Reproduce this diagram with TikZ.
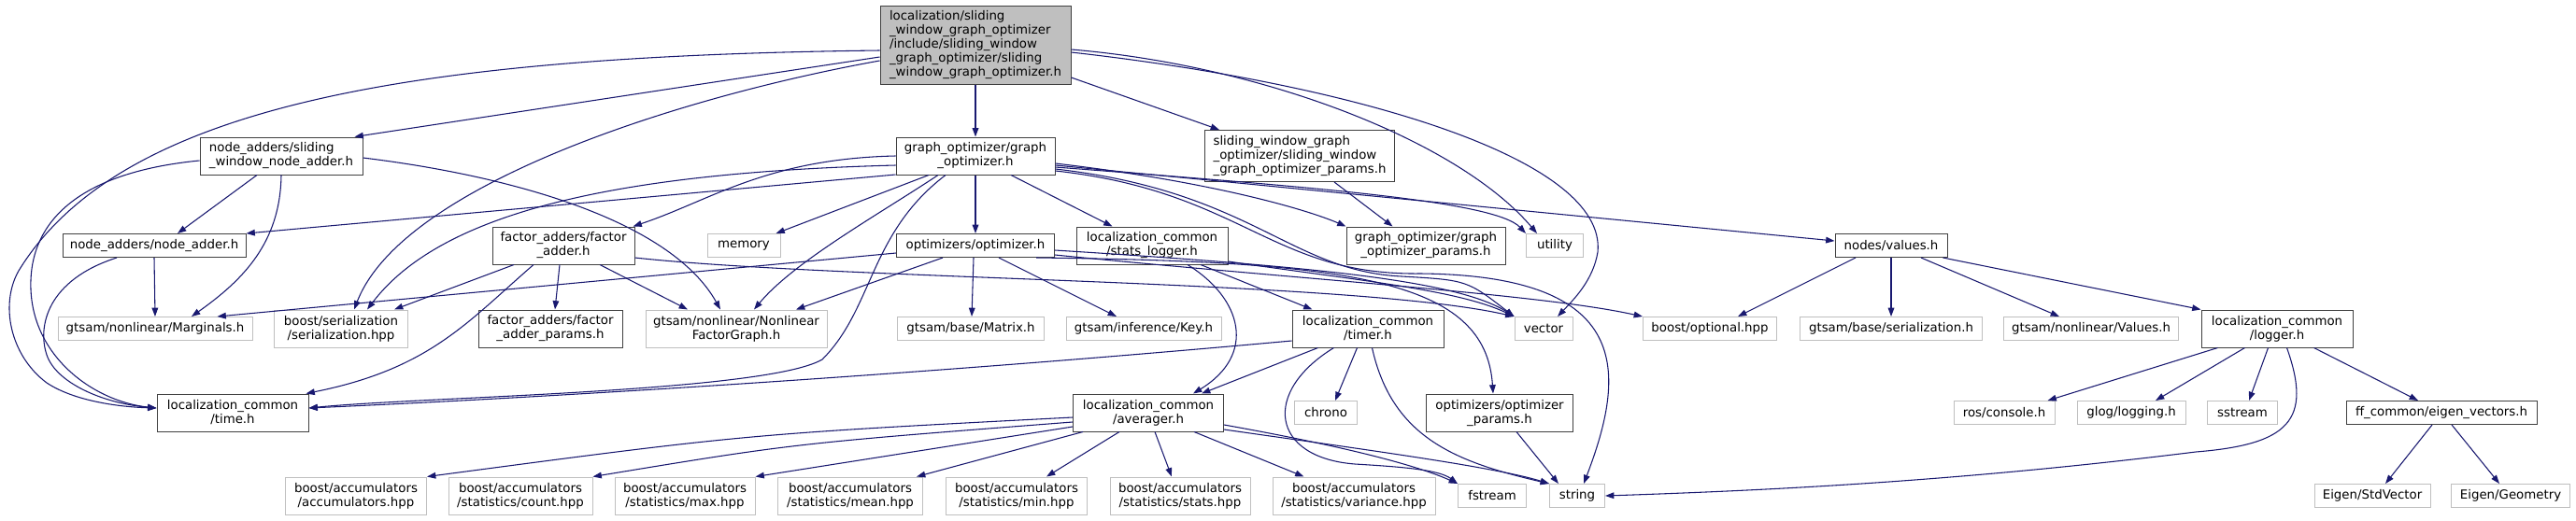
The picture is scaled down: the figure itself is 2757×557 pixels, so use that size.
\documentclass[tikz,border=0pt]{standalone}
\usepackage{fontspec}
\setmainfont{DejaVu Sans}
\usetikzlibrary{arrows.meta,calc}
\definecolor{mblue}{HTML}{191970}
\definecolor{gry}{HTML}{BFBFBF}
\definecolor{nbord}{HTML}{404040}
\tikzset{
  nbox/.style={draw=nbord, line width=0.75pt, fill=white, inner xsep=3pt, inner ysep=1pt,
    font=\fontsize{10pt}{11.25pt}\selectfont, align=center},
  xbox/.style={nbox, draw=gry},
  hone/.style={minimum height=18.75pt},
  htwo/.style={minimum height=30pt},
  edg/.style={draw=mblue, line width=0.8pt, -{Triangle[length=7pt,width=5pt]}}
}
\begin{document}
\begin{tikzpicture}[x=0.75pt,y=-0.75pt]
\useasboundingbox (0,0) rectangle (2757,557);
\fill[white] (0,0) rectangle (2757,557);

% row 0
\node[nbox, fill=gry, minimum width=204*0.75pt, minimum height=84*0.75pt, align=left] (root) at (1044,48) {localization/sliding\\\_window\_graph\_optimizer\\/include/sliding\_window\\\_graph\_optimizer/sliding\\\_window\_graph\_optimizer.h};
% row 1
\node[nbox, htwo, minimum width=174*0.75pt, align=left] (NS) at (301,167) {node\_adders/sliding\\\_window\_node\_adder.h};
\node[nbox, htwo, minimum width=170*0.75pt] (GO) at (1044,167) {graph\_optimizer/graph\\\_optimizer.h};
\node[nbox, minimum height=55*0.75pt, minimum width=203*0.75pt, align=left] (SWP) at (1391,167) {sliding\_window\_graph\\\_optimizer/sliding\_window\\\_graph\_optimizer\_params.h};
% row 2
\node[nbox, hone, minimum width=196*0.75pt] (NA) at (165,263) {node\_adders/node\_adder.h};
\node[nbox, htwo, minimum width=152*0.75pt] (FA) at (603,263) {factor\_adders/factor\\\_adder.h};
\node[xbox, hone, minimum width=78*0.75pt] (MEM) at (796,263) {memory};
\node[nbox, hone, minimum width=169*0.75pt] (OPT) at (1044,263) {optimizers/optimizer.h};
\node[nbox, htwo, minimum width=162*0.75pt] (SL) at (1233,263) {localization\_common\\/stats\_logger.h};
\node[nbox, htwo, minimum width=170*0.75pt] (GOP) at (1526,263) {graph\_optimizer/graph\\\_optimizer\_params.h};
\node[xbox, hone, minimum width=61*0.75pt] (UTIL) at (1664,263) {utility};
\node[nbox, hone, minimum width=120*0.75pt] (VAL) at (2024,263) {nodes/values.h};
% row 3
\node[xbox, hone, minimum width=208*0.75pt] (MARG) at (166,352) {gtsam/nonlinear/Marginals.h};
\node[xbox, htwo, minimum width=143*0.75pt] (SER) at (365,352) {boost/serialization\\/serialization.hpp};
\node[nbox, htwo, minimum width=154*0.75pt] (FAP) at (589,352) {factor\_adders/factor\\\_adder\_params.h};
\node[xbox, htwo, minimum width=194*0.75pt] (NLFG) at (788,352) {gtsam/nonlinear/Nonlinear\\FactorGraph.h};
\node[xbox, hone, minimum width=157*0.75pt] (MAT) at (1039,352) {gtsam/base/Matrix.h};
\node[xbox, hone, minimum width=166*0.75pt] (KEY) at (1224,352) {gtsam/inference/Key.h};
\node[nbox, htwo, minimum width=162*0.75pt] (TIMER) at (1464,352) {localization\_common\\/timer.h};
\node[xbox, hone, minimum width=62*0.75pt] (VEC) at (1652,352) {vector};
\node[xbox, hone, minimum width=143*0.75pt] (OPTL) at (1830,352) {boost/optional.hpp};
\node[xbox, hone, minimum width=195*0.75pt] (GSER) at (2024,352) {gtsam/base/serialization.h};
\node[xbox, hone, minimum width=187*0.75pt] (VALS) at (2238,352) {gtsam/nonlinear/Values.h};
\node[nbox, htwo, minimum width=162*0.75pt] (LOG) at (2437,352) {localization\_common\\/logger.h};
% row 4
\node[nbox, htwo, minimum width=162*0.75pt] (TIME) at (249,442) {localization\_common\\/time.h};
\node[nbox, htwo, minimum width=161*0.75pt] (AVG) at (1229,442) {localization\_common\\/averager.h};
\node[xbox, hone, minimum width=67*0.75pt] (CHR) at (1419,442) {chrono};
\node[nbox, htwo, minimum width=157*0.75pt] (OPP) at (1605,442) {optimizers/optimizer\\\_params.h};
\node[xbox, hone, minimum width=108*0.75pt] (ROS) at (2145,442) {ros/console.h};
\node[xbox, hone, minimum width=116*0.75pt] (GLOG) at (2281,442) {glog/logging.h};
\node[xbox, hone, minimum width=75*0.75pt] (SST) at (2400,442) {sstream};
\node[nbox, hone, minimum width=204*0.75pt] (FF) at (2613,442) {ff\_common/eigen\_vectors.h};
% row 5
\node[xbox, htwo, minimum width=151*0.75pt] (ACC) at (381,531) {boost/accumulators\\/accumulators.hpp};
\node[xbox, htwo, minimum width=154*0.75pt] (CNT) at (557,531) {boost/accumulators\\/statistics/count.hpp};
\node[xbox, htwo, minimum width=150*0.75pt] (MAX) at (733,531) {boost/accumulators\\/statistics/max.hpp};
\node[xbox, htwo, minimum width=155*0.75pt] (MEAN) at (910,531) {boost/accumulators\\/statistics/mean.hpp};
\node[xbox, htwo, minimum width=151*0.75pt] (MIN) at (1088,531) {boost/accumulators\\/statistics/min.hpp};
\node[xbox, htwo, minimum width=150*0.75pt] (STATS) at (1263,531) {boost/accumulators\\/statistics/stats.hpp};
\node[xbox, htwo, minimum width=174*0.75pt] (VAR) at (1449,531) {boost/accumulators\\/statistics/variance.hpp};
\node[xbox, hone, minimum width=73*0.75pt] (FST) at (1597,531) {fstream};
\node[xbox, hone, minimum width=59*0.75pt] (STR) at (1688,531) {string};
\node[xbox, hone, minimum width=124*0.75pt] (ESV) at (2539,531) {Eigen/StdVector};
\node[xbox, hone, minimum width=127*0.75pt] (EGEO) at (2687,531) {Eigen/Geometry};

% ---- root
\draw[edg] (root.south) -- (GO.north);
\draw[edg] ($(root.west)+(0,13)$) -- ($(NS.north east)+(-9,0)$);
\draw[edg] ($(root.east)+(0,35)$) -- ($(SWP.north west)+(16,0)$);
\draw[edg] ($(root.west)+(0,6)$) .. controls (450,60) and (130,110) .. (20,290) .. controls (0,325) and (10,380) .. (50,410) .. controls (80,430) and (130,436) .. ($(TIME.west)+(0,-5)$);
\draw[edg] ($(root.west)+(0,17)$) .. controls (720,105) and (430,200) .. ($(SER.north)+(14,0)$);
\draw[edg] ($(root.east)+(0,5)$) .. controls (1350,70) and (1560,150) .. ($(UTIL.north west)+(12,0)$);
\draw[edg] ($(root.east)+(0,8)$) .. controls (1450,90) and (1720,170) .. (1710,270) .. controls (1705,300) and (1685,320) .. ($(VEC.north)+(15,0)$);

% ---- NS
\draw[edg] ($(NS.south)+(-26,0)$) -- ($(NA.north)+(25,0)$);
\draw[edg] (NS.south) .. controls (300,260) and (260,300) .. ($(MARG.north)+(39,0)$);
\draw[edg] ($(NS.west)+(0,5)$) .. controls (80,185) and (35,240) .. (33,300) .. controls (30,380) and (100,430) .. ($(TIME.west)+(0,-5)$);
\draw[edg] ($(NS.east)+(0,2)$) .. controls (560,190) and (720,240) .. ($(NLFG.north)+(-17,0)$);

% ---- NA
\draw[edg] (NA.south) -- (MARG.north);
\draw[edg] ($(NA.south)+(-40,0)$) .. controls (50,300) and (40,350) .. (50,380) .. controls (60,410) and (110,432) .. ($(TIME.west)+(0,-5)$);

% ---- GO
\draw[edg] (GO.south) -- (OPT.north);
\draw[edg] ($(GO.south)+(-50,0)$) -- ($(MEM.north east)+(-5,0)$);
\draw[edg] ($(GO.south)+(38,0)$) -- ($(SL.north west)+(39,0)$);
\draw[edg] (GO.west) .. controls (820,170) and (760,215) .. ($(FA.north east)+(-2,0)$);
\draw[edg] ($(GO.west)+(0,20)$) -- (NA.north east);
\draw[edg] ($(GO.west)+(0,10)$) .. controls (650,185) and (470,230) .. ($(SER.north)+(28,0)$);
\draw[edg] ($(GO.south)+(-40,0)$) .. controls (940,230) and (850,280) .. ($(NLFG.north)+(19,0)$);
\draw[edg] ($(GO.south)+(-32,0)$) .. controls (930,250) and (935,330) .. (880,385) .. controls (820,420) and (450,425) .. ($(TIME.east)+(0,-5)$);
\draw[edg] ($(GO.east)+(0,8)$) .. controls (1300,195) and (1400,225) .. (GOP.north west);
\draw[edg] ($(GO.east)+(0,10)$) -- ($(VAL.west)+(0,-5)$);
\draw[edg] ($(GO.east)+(0,12)$) .. controls (1400,200) and (1600,215) .. (UTIL.north west);
\draw[edg] ($(GO.east)+(0,14)$) .. controls (1340,205) and (1380,290) .. (1500,296) .. controls (1570,300) .. (VEC.north west);
\draw[edg] ($(GO.east)+(0,16)$) .. controls (1330,205) and (1360,295) .. (1520,293) .. controls (1750,295) and (1740,400) .. ($(STR.north)+(7,0)$);

% ---- SWP
\draw[edg] ($(SWP.south)+(37,0)$) -- ($(GOP.north west)+(50,0)$);

% ---- FA
\draw[edg] ($(FA.south)+(-53,0)$) -- ($(SER.north)+(57,0)$);
\draw[edg] ($(FA.south)+(-32,0)$) .. controls (500,345) and (460,395) .. ($(TIME.north east)+(-3,0)$);
\draw[edg] ($(FA.south)+(-4,0)$) -- ($(FAP.north)+(5,0)$);
\draw[edg] ($(FA.south)+(39,0)$) -- ($(NLFG.north)+(-52,0)$);
\draw[edg] ($(FA.east)+(0,13)$) .. controls (900,300) and (1450,300) .. (VEC.north west);

% ---- OPT
\draw[edg] ($(OPT.west)+(0,8)$) -- ($(MARG.north east)+(-38,0)$);
\draw[edg] ($(OPT.south)+(-35,0)$) -- ($(NLFG.north)+(64,0)$);
\draw[edg] ($(OPT.south)+(-2,0)$) -- ($(MAT.north)+(1,0)$);
\draw[edg] ($(OPT.south)+(25,0)$) -- ($(KEY.north)+(-29,0)$);
\draw[edg] ($(OPT.east)+(0,5)$) .. controls (1400,285) and (1560,300) .. (VEC.north west);
\draw[edg] ($(OPT.south east)+(0,-3)$) .. controls (1400,300) and (1650,315) .. (OPTL.north west);
\draw[edg] ($(OPT.south east)+(-20,0)$) .. controls (1450,280) and (1590,300) .. ($(OPP.north)+(-7,0)$);

% ---- SL
\draw[edg] ($(SL.south)+(38,0)$) .. controls (1330,320) and (1345,380) .. ($(AVG.north)+(48,0)$);
\draw[edg] ($(SL.south)+(52,0)$) -- ($(TIMER.north west)+(22,0)$);
\draw[edg] ($(SL.east)+(0,17)$) .. controls (1450,300) and (1560,310) .. (VEC.north west);

% ---- TIMER
\draw[edg] ($(TIMER.west)+(0,13)$) .. controls (1000,400) and (600,425) .. ($(TIME.east)+(0,-5)$);
\draw[edg] ($(TIMER.south west)+(28,0)$) -- ($(AVG.north)+(57,0)$);
\draw[edg] ($(TIMER.south west)+(45,0)$) .. controls (1350,420) and (1360,490) .. (1450,497) .. controls (1500,500) and (1540,503) .. (FST.north west);
\draw[edg] ($(TIMER.south west)+(70,0)$) -- ($(CHR.north)+(10,0)$);
\draw[edg] ($(TIMER.south west)+(86,0)$) .. controls (1490,470) and (1560,495) .. (STR.north west);

% ---- AVG
\draw[edg] ($(AVG.west)+(0,5)$) .. controls (800,465) .. (ACC.north east);
\draw[edg] ($(AVG.west)+(0,10)$) .. controls (850,475) .. (CNT.north east);
\draw[edg] ($(AVG.west)+(0,15)$) -- (MAX.north east);
\draw[edg] ($(AVG.south west)+(11,0)$) -- ($(MEAN.north east)+(-7,0)$);
\draw[edg] ($(AVG.south)+(-31,0)$) -- ($(MIN.north)+(32,0)$);
\draw[edg] ($(AVG.south)+(7,0)$) -- ($(STATS.north)+(-9,0)$);
\draw[edg] ($(AVG.south)+(49,0)$) -- ($(VAR.north west)+(34,0)$);
\draw[edg] ($(AVG.east)+(0,13)$) .. controls (1450,480) and (1520,500) .. (FST.north west);
\draw[edg] ($(AVG.east)+(0,18)$) .. controls (1450,480) and (1600,500) .. (STR.north west);

% ---- OPP
\draw[edg] ($(OPP.south)+(18,0)$) -- ($(STR.north west)+(10,0)$);

% ---- VAL
\draw[edg] ($(VAL.south)+(-38,0)$) -- ($(OPTL.north)+(30,0)$);
\draw[edg] (VAL.south) -- (GSER.north);
\draw[edg] ($(VAL.south)+(32,0)$) -- ($(VALS.north)+(-34,0)$);
\draw[edg] ($(VAL.south east)+(-5,0)$) -- (LOG.north west);

% ---- LOG
\draw[edg] ($(LOG.south west)+(18,0)$) -- ($(ROS.north east)+(-8,0)$);
\draw[edg] ($(LOG.south west)+(47,0)$) -- ($(GLOG.north)+(26,0)$);
\draw[edg] ($(LOG.south west)+(72,0)$) -- ($(SST.north)+(7,0)$);
\draw[edg] ($(LOG.south west)+(92,0)$) .. controls (2475,450) and (2450,476) .. (2350,484) .. controls (2100,515) and (1900,525) .. (STR.east);
\draw[edg] ($(LOG.south west)+(121,0)$) -- ($(FF.north)+(-25,0)$);

% ---- FF
\draw[edg] ($(FF.south)+(-10,0)$) -- ($(ESV.north)+(14,0)$);
\draw[edg] ($(FF.south)+(11,0)$) -- ($(EGEO.north)+(-12,0)$);
\end{tikzpicture}
\end{document}
